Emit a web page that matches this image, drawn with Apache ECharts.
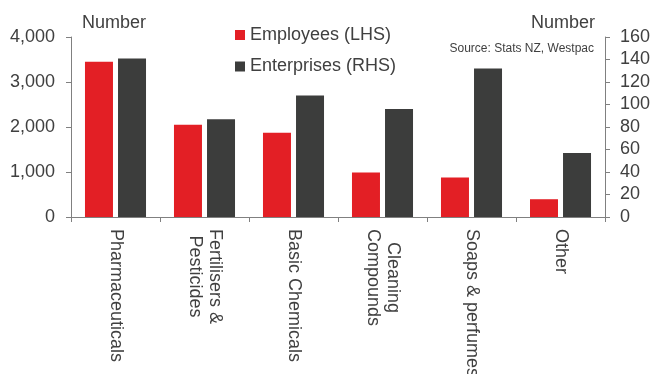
<!DOCTYPE html>
<html>
<head>
<meta charset="utf-8">
<script src="https://cdn.jsdelivr.net/npm/echarts@6/dist/echarts.min.js"></script>
<style>html,body{margin:0;padding:0;background:#fff;}#c{width:654px;height:374px;}</style>
</head>
<body>
<div id="c"></div>
<script>
const categories = ['Pharmaceuticals', 'Fertilisers &\nPesticides', 'Basic Chemicals', 'Cleaning\nCompounds', 'Soaps & perfumes', 'Other'];
const employees = [3450, 2050, 1875, 990, 880, 395];
const enterprises = [141, 87, 108, 96, 132, 57];
const leftTicks = { min: 0, max: 4000, interval: 1000 };
const rightTicks = { min: 0, max: 160, interval: 20 };

const FONT = '"Liberation Sans", Arial, sans-serif';
const TXT = '#404040';
const AX = '#808080';
const chart = echarts.init(document.getElementById('c'), null, { renderer: 'canvas' });
chart.setOption({
  animation: false,
  textStyle: { fontFamily: FONT },
  grid: { left: 71, right: 49, top: 37, bottom: 157, containLabel: false, outerBoundsMode: 'none' },
  legend: {
    orient: 'vertical', left: 230, top: 20, icon: 'rect', itemWidth: 10, itemHeight: 10,
    itemGap: 11.5, selectedMode: false,
    textStyle: { fontFamily: FONT, fontSize: 18, color: TXT, lineHeight: 20 },
    data: ['Employees (LHS)', 'Enterprises (RHS)']
  },
  graphic: [
    { type: 'text', left: 82, top: 14, style: { text: 'Number', font: '18px ' + FONT, fill: TXT } },
    { type: 'text', right: 59, top: 14, style: { text: 'Number', font: '18px ' + FONT, fill: TXT } },
    { type: 'text', right: 60, top: 43, style: { text: 'Source: Stats NZ, Westpac', font: '12px ' + FONT, fill: TXT } }
  ],
  xAxis: {
    type: 'category', data: categories,
    axisLine: { lineStyle: { color: AX, width: 1 } },
    axisTick: { show: true, length: 5, lineStyle: { color: AX } },
    axisLabel: {
      interval: 0, rotate: -90, margin: 12, fontSize: 18, color: TXT, fontFamily: FONT, lineHeight: 20,
      formatter: v => v.split('\n').map(s => '{c|' + s + '}').join('\n'),
      rich: { c: { align: 'center', fontSize: 18, lineHeight: 20, color: TXT, fontFamily: FONT } }
    }
  },
  yAxis: [
    {
      type: 'value', min: leftTicks.min, max: leftTicks.max, interval: leftTicks.interval,
      splitLine: { show: false },
      axisLine: { show: true, lineStyle: { color: AX } },
      axisTick: { show: true, length: 5, lineStyle: { color: AX } },
      axisLabel: { fontSize: 18, color: TXT, margin: 16, fontFamily: FONT,
        formatter: v => v.toLocaleString('en-US') }
    },
    {
      type: 'value', min: rightTicks.min, max: rightTicks.max, interval: rightTicks.interval,
      position: 'right',
      splitLine: { show: false },
      axisLine: { show: true, lineStyle: { color: AX } },
      axisTick: { show: true, length: 5, lineStyle: { color: AX } },
      axisLabel: { fontSize: 18, color: TXT, margin: 15, fontFamily: FONT }
    }
  ],
  series: [
    { name: 'Employees (LHS)', type: 'bar', data: employees, yAxisIndex: 0, barWidth: 28, barGap: '18%',
      itemStyle: { color: '#e31f25' } },
    { name: 'Enterprises (RHS)', type: 'bar', data: enterprises, yAxisIndex: 1, barWidth: 28, barGap: '18%',
      itemStyle: { color: '#3c3d3c' } }
  ]
});
</script>
</body>
</html>
